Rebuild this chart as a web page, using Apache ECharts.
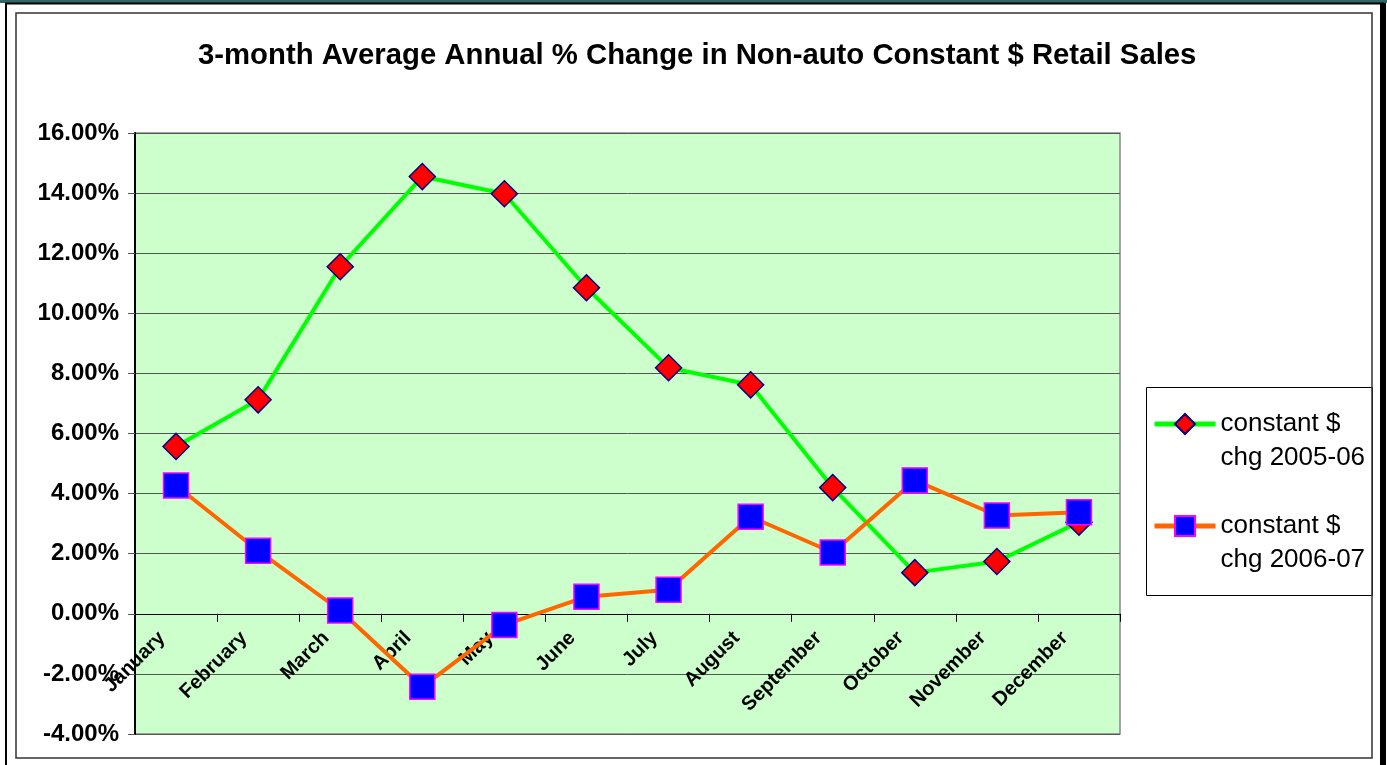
<!DOCTYPE html>
<html>
<head>
<meta charset="utf-8">
<script src="https://cdn.jsdelivr.net/npm/echarts@6/dist/echarts.min.js"></script>
<style>
  html, body { margin: 0; padding: 0; background: #fff; }
  main { width: 1387px; height: 765px; }
</style>
</head>
<body>
<main></main>
<script>
const months = ['January', 'February', 'March', 'April', 'May', 'June', 'July', 'August', 'September', 'October', 'November', 'December']
const chg0506 = [5.57, 7.12, 11.55, 14.55, 13.98, 10.85, 8.19, 7.62, 4.2, 1.37, 1.74, 3.05]
const chg0607 = [4.27, 2.1, 0.11, -2.43, -0.37, 0.57, 0.8, 3.23, 2.04, 4.44, 3.27, 3.38]
const yTicks = { min: -4, max: 16, step: 2 }

const font = "'Liberation Sans', Arial, sans-serif"
const chart = echarts.init(document.querySelector('main'))

// plot area in px; the category axis sits on the 0% line
const plot = { left: 135, top: 133, right: 267, bottom: 31 }
const plotH = 765 - plot.top - plot.bottom
const zeroOffset = (plotH * (0 - yTicks.min)) / (yTicks.max - yTicks.min)

chart.setOption({
  animation: false,
  backgroundColor: '#fff',
  title: {
    text: '3-month Average Annual % Change in Non-auto Constant $ Retail Sales',
    left: 193,
    top: 36,
    textStyle: { fontFamily: font, fontSize: 29.3, fontWeight: 'bold', color: '#000' },
  },
  graphic: [
    // frame around the whole chart
    { type: 'rect', shape: { x: 0, y: 0, width: 1387, height: 3 }, style: { fill: '#336666' }, silent: true },
    { type: 'rect', shape: { x: 6, y: 3.5, width: 1377, height: 780 }, style: { fill: null, stroke: '#000', lineWidth: 2 }, silent: true },
    { type: 'rect', shape: { x: 1380, y: 3, width: 6, height: 762 }, style: { fill: '#000' }, silent: true },
    { type: 'rect', shape: { x: 16, y: 13, width: 1356, height: 745 }, style: { fill: null, stroke: '#333', lineWidth: 1.5 }, silent: true },
    // legend box
    { type: 'rect', shape: { x: 1146.5, y: 387.5, width: 226, height: 208 }, style: { fill: '#fff', stroke: '#000', lineWidth: 1 }, silent: true, z: -1 },
  ],
  legend: {
    orient: 'vertical',
    left: 1152,
    top: 373,
    padding: 0,
    itemGap: 0,
    itemWidth: 61,
    itemHeight: 25,
    lineStyle: { width: 5 },
    formatter: (name) => '\n' + name,
    textStyle: { fontFamily: font, fontSize: 26, lineHeight: 34, color: '#000' },
  },
  grid: {
    ...plot,
    outerBoundsMode: 'none',
    show: true,
    backgroundColor: '#ccffcc',
    borderColor: '#888',
    borderWidth: 1.5,
  },
  xAxis: {
    type: 'category',
    data: months,
    boundaryGap: true,
    position: 'bottom',
    offset: -zeroOffset,
    axisLine: { onZero: false, lineStyle: { color: '#000', width: 1 } },
    axisTick: { show: true, length: 8, lineStyle: { color: '#000' } },
    axisLabel: {
      rotate: 45,
      margin: 7,
      padding: [0, 20, 0, 0],
      fontFamily: font,
      fontSize: 20,
      fontWeight: 'bold',
      color: '#000',
      interval: 0,
    },
    splitLine: { show: false },
  },
  yAxis: {
    type: 'value',
    min: yTicks.min,
    max: yTicks.max,
    interval: yTicks.step,
    axisLine: { show: true, lineStyle: { color: '#000', width: 2 } },
    axisTick: { show: true, length: 7, lineStyle: { color: '#555' } },
    axisLabel: {
      margin: 16,
      fontFamily: font,
      fontSize: 24,
      fontWeight: 'bold',
      color: '#000',
      formatter: (v) => v.toFixed(2) + '%',
    },
    splitLine: { show: true, lineStyle: { color: '#555', width: 1 } },
  },
  series: [
    {
      name: 'constant $\nchg 2005-06',
      type: 'line',
      data: chg0506,
      symbol: 'diamond',
      symbolSize: 26,
      lineStyle: { color: '#00ff00', width: 4 },
      itemStyle: { color: '#ff0000', borderColor: '#000080', borderWidth: 1.5 },
    },
    {
      name: 'constant $\nchg 2006-07',
      type: 'line',
      data: chg0607,
      symbol: 'rect',
      symbolSize: 25,
      lineStyle: { color: '#ff6600', width: 4 },
      itemStyle: { color: '#0000ff', borderColor: '#ff00ff', borderWidth: 1.5 },
    },
  ],
})
</script>
</body>
</html>
